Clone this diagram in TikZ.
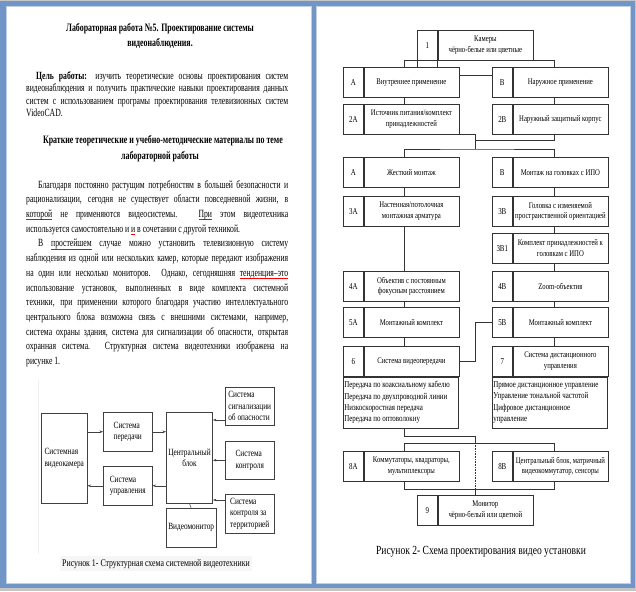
\documentclass[tikz,border=0pt]{standalone}
\usepackage{fontspec}
\setmainfont{Liberation Serif}[FakeStretch=0.77]
\newfontfamily\bodyfont{Liberation Serif}[FakeStretch=0.7]
\usetikzlibrary{positioning, arrows.meta}
\definecolor{frameblue}{RGB}{114,149,200}
\newsavebox\wavebox
\newcommand\redwave[1]{\sbox\wavebox{#1}\rlap{\textcolor{red}{\rule[-2.5pt]{\wd\wavebox}{0.6pt}}}\usebox\wavebox}
\newcommand\jl[1]{\makebox[262pt][s]{#1}}
% one stage of figure 2: number cell + text cell
\newcommand\stagebox[5]{%
  \node[numcell, anchor=north west] (n#1) at (#2,#3) {#4};
  \node[txtcell, right=0pt of n#1] (t#1) {#5};}
\tikzset{
  link/.style={draw=black!80, line width=0.6pt},
  numcell/.style={draw=black!80, line width=0.6pt, fill=white, minimum width=20pt,
    minimum height=30pt, inner sep=0pt, font=\fontsize{9}{10.5}\selectfont},
  txtcell/.style={draw=black!80, line width=0.6pt, fill=white, minimum width=95pt,
    minimum height=30pt, inner sep=0.5pt, align=center, font=\fontsize{8.7}{10.5}\selectfont},
  listcell/.style={draw=black!80, line width=0.6pt, fill=white, minimum width=115pt,
    minimum height=51pt, text width=113pt, inner sep=1pt, align=flush left,
    font=\fontsize{9}{11.3}\selectfont},
  flowbox/.style={draw=black!75, line width=0.5pt, inner sep=2pt, align=left,
    anchor=north west, font=\fontsize{9.5}{11.5}\selectfont},
  sarrow/.style={draw=black!75, line width=0.5pt, -{Stealth[length=3.5pt, width=2.5pt]}},
  bodytext/.style={anchor=base west, inner sep=0pt, font=\bodyfont\fontsize{11}{14}\selectfont},
  headtext/.style={anchor=base, inner sep=0pt, font=\bodyfont\bfseries\fontsize{11.3}{14}\selectfont},
}
\begin{document}
\begin{tikzpicture}[x=1pt, y=-1pt]
\useasboundingbox (0,0) rectangle (636,591);
% frame and pages
\fill[gray!45] (0,0) rectangle (636,591);
\fill[frameblue] (0,1.5) rectangle (635,588);
\fill[white, draw=frameblue!45, line width=0.8pt] (6,6.7) rectangle (311,583);
\fill[white, draw=frameblue!45, line width=0.8pt] (316,6.7) rectangle (630,583);

% left page: text
\node[headtext] (title1) at (160,31.5) {Лабораторная работа №5. Проектирование системы};
\node[headtext] (title2) at (160,46.5) {видеонаблюдения.};
\foreach \txt [count=\i from 0] in {
  {\jl{\hspace*{10pt}\textbf{Цель работы:} изучить теоретические основы проектирования систем}},
  {\jl{видеонаблюдения и получить практические навыки проектирования данных}},
  {\jl{систем с использованием програмы проектирования телевизионных систем}},
  {VideoCAD.}}
  \node[bodytext] (aim\i) at (26,{80+12*\i}) {\txt};
\node[headtext] (head1) at (163,143.5) {Краткие теоретические и учебно-методические материалы по теме};
\node[headtext] (head2) at (160,159) {лабораторной работы};
\foreach \txt [count=\i from 0] in {
  {\jl{\hspace*{12pt}Благодаря постоянно растущим потребностям в большей безопасности и}},
  {\jl{рационализации, сегодня не существует области повседневной жизни, в}},
  {\jl{\redwave{которой} не применяются видеосистемы. \redwave{При} этом видеотехника}},
  {используется самостоятельно и \redwave{и} в сочетании с другой техникой.},
  {\jl{\hspace*{12pt}В \redwave{простейшем} случае можно установить телевизионную систему}},
  {\jl{наблюдения из одной или нескольких камер, которые передают изображения}},
  {\jl{на один или несколько мониторов. Однако, сегодняшняя \redwave{тенденция–это}}},
  {\jl{использование установок, выполненных в виде комплекта системной}},
  {\jl{техники, при применении которого благодаря участию интеллектуального}},
  {\jl{центрального блока возможна связь с внешними системами, например,}},
  {\jl{система охраны здания, система для сигнализации об опасности, открытая}},
  {\jl{охранная система. Структурная система видеотехники изображена на}},
  {рисунке 1.}}
  \node[bodytext] (par\i) at (26,{188+14.72*\i}) {\txt};

% left page: figure 1
\draw[gray!12] (38,380) -- (38,554);
\node[flowbox, minimum width=46pt, minimum height=90pt] (cam) at (41,413) {Системная\\видеокамера};
\node[flowbox, minimum width=49pt, minimum height=39pt] (tx) at (103,412) {Система\\передачи};
\node[flowbox, minimum width=49pt, minimum height=39pt] (ctl) at (103,466) {Система\\управления};
\node[flowbox, minimum width=46pt, minimum height=91pt, align=center] (cb) at (166,412) {Центральный\\блок};
\node[flowbox, minimum width=46pt, minimum height=39pt] (mon) at (166,508) {Видеомонитор};
\node[flowbox, minimum width=49pt, minimum height=38pt] (sig) at (225,387) {Система\\сигнализации\\об опасности};
\node[flowbox, minimum width=49pt, minimum height=38pt] (mtr) at (225,441) {Система\\контроля};
\node[flowbox, minimum width=49pt, minimum height=39pt] (ter) at (225,494) {Система\\контроля за\\территорией};
\draw[sarrow] (cam.east |- tx.west) -- (tx.west);
\draw[sarrow] (tx.east) -- (cb.west |- tx.east);
\draw[sarrow] (cb.west |- ctl.east) -- (ctl.east);
\draw[sarrow] (ctl.west) -- (cam.east |- ctl.west);
\draw[sarrow] (sig.west |- 0,420) -- (cb.east |- 0,420);
\draw[sarrow] (mtr.west) -- (cb.east |- mtr.west);
\draw[sarrow] (ter.west |- 0,500) -- (cb.east |- 0,500);
\draw[sarrow, -] (cb.south) -- (mon.north);
\node[fill=gray!7, inner xsep=2pt, inner ysep=3pt, anchor=base, font=\fontsize{10.2}{12}\selectfont]
  (cap1) at (156,566) {Рисунок 1- Структурная схема системной видеотехники};

% right page: figure 2
\coordinate (lx) at (404,0);
\coordinate (rx) at (554,0);
\coordinate (mx) at (475,0);
\coordinate (jn) at (475,149);
\node[link, minimum width=150pt, minimum height=46pt, anchor=north west, inner sep=0pt] (bus) at (404,443) {};
\stagebox{one}{417}{30}{1}{Камеры\\чёрно-белые или цветные}
\stagebox{A}{343}{67}{A}{Внутреннее применение}
\stagebox{B}{492}{67}{B}{Наружное применение}
\stagebox{twoA}{343}{104}{2A}{Источник питания/комплект\\принадлежностей}
\stagebox{twoB}{492}{104}{2B}{Наружный защитный корпус}
\stagebox{mA}{343}{157}{A}{Жесткий монтаж}
\stagebox{mB}{492}{157}{B}{Монтаж на головках с ИПО}
\stagebox{threeA}{343}{196}{3A}{Настенная/потолочная\\монтажная арматура}
\stagebox{threeB}{492}{196}{3B}{Головка с изменяемой\\пространственной ориентацией}
\stagebox{threeBa}{492}{233}{3B1}{Комплект принадлежностей к\\головкам с ИПО}
\stagebox{fourA}{343}{271}{4A}{Объектив с постоянным\\фокусным расстоянием}
\stagebox{fourB}{492}{271}{4B}{Zoom-объектив}
\stagebox{fiveA}{343}{307}{5A}{Монтажный комплект}
\stagebox{fiveB}{492}{307}{5B}{Монтажный комплект}
\stagebox{six}{343}{346}{6}{Система видеопередачи}
\stagebox{seven}{492}{346}{7}{Система дистанционного\\управления}
\node[listcell, anchor=north west] (lsix) at (nsix.south west)
  {Передача по коаксиальному кабелю\\Передача по двухпроводной линии\\Низкоскоростная передача\\Передача по оптоволокну};
\node[listcell, anchor=north west] (lseven) at (nseven.south west)
  {Прямое дистанционное управление\\Управление тональной частотой\\Цифровое дистанционное\\управление};
\stagebox{eightA}{343}{451}{8A}{Коммутаторы, квадраторы,\\мультиплексоры}
\stagebox{eightB}{492}{451}{8B}{Центральный блок, матричный\\видеокоммутатор, сенсоры}
\stagebox{nine}{417}{495}{9}{Монитор\\чёрно-белый или цветной}

\draw[link] (none.south west) -- (none.south west |- tA.north);
\draw[link] (none.south east) -- (none.south east |- tA.north);
\draw[link] (tA.north -| lx) |- (tone.south) -| (tB.north -| rx);
\draw[link] ([yshift=7pt]tA.east) -- ([yshift=7pt]nB.west);
\draw[link] (ttwoA.south east) -| (jn);
\draw[link] (ttwoB.south -| rx) |- ([yshift=-6pt]ttwoB.south -| mx);
\draw[link] (tmA.north -| lx) |- (jn) -| (tmB.north -| rx);
\foreach \u/\v in {A/twoA, mA/threeA, threeA/fourA, fourA/fiveA, fiveA/six}
  \draw[link] (t\u.south -| lx) -- (t\v.north -| lx);
\foreach \u/\v in {B/twoB, mB/threeB, threeB/threeBa, threeBa/fourB, fourB/fiveB, fiveB/seven}
  \draw[link] (t\u.south -| rx) -- (t\v.north -| rx);
\draw[link] (tsix.east) -| (mx |- nfiveB.west) -- (nfiveB.west);
\draw[link] (lsix.south -| lx) -- ++(0,8) -| (bus.north -| mx);
\draw[link, densely dotted] (bus.north -| mx) -- (bus.south -| mx);
\draw[link] (bus.south -| mx) -- (tnine.north -| mx);
\node[anchor=base, inner sep=0pt, font=\fontsize{12.4}{14}\selectfont] (cap2) at (481,554)
  {Рисунок 2- Схема проектирования видео установки};
\end{tikzpicture}
\end{document}
